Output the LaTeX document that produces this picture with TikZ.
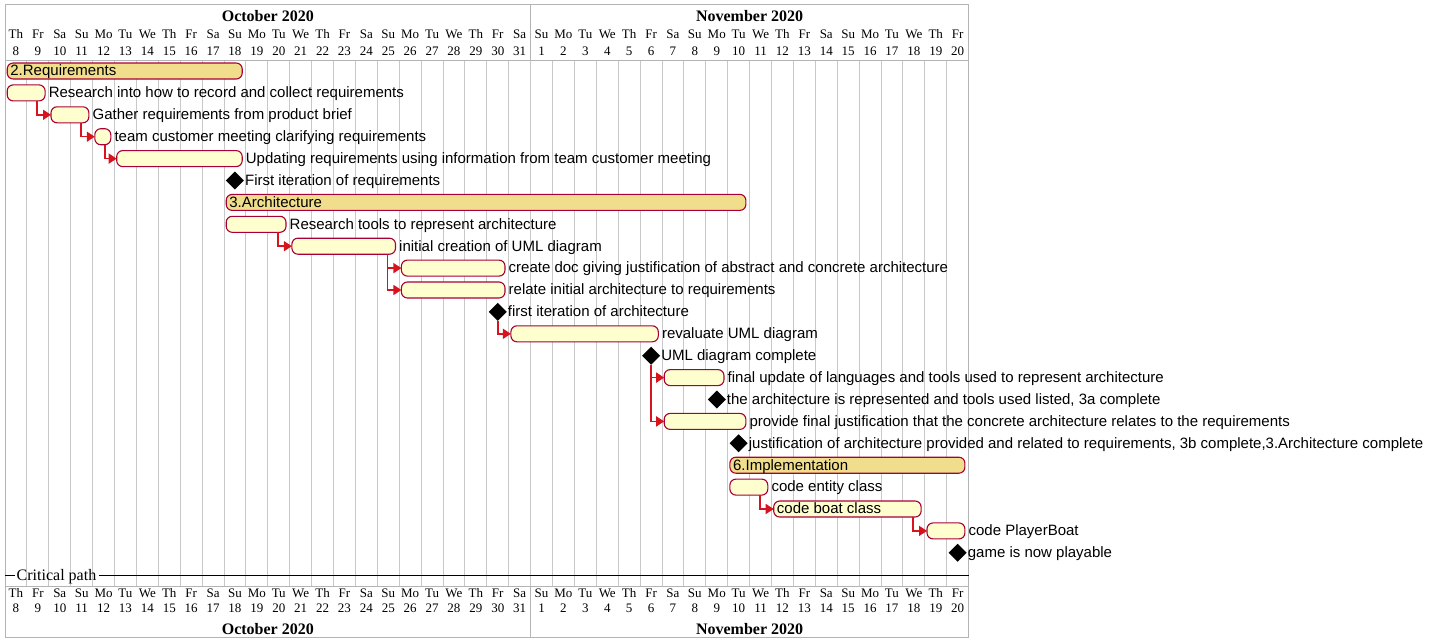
\documentclass[tikz,border=0pt]{standalone}
\usepackage{fontspec}
\setmainfont{Liberation Serif}
\newfontfamily\lblfont{Liberation Sans}
\usetikzlibrary{arrows.meta,shapes.geometric}
\definecolor{taskfill}{HTML}{FEFECE}
\definecolor{taskline}{HTML}{A80036}
\definecolor{grpfill}{RGB}{240,222,140}
\definecolor{arrowred}{RGB}{215,20,30}
\definecolor{gridgray}{RGB}{200,200,200}
\definecolor{framegray}{RGB}{180,180,180}
\newcommand{\TaskBar}[5]{%
  \pgfmathsetmacro{\tbxa}{5+21.9*(#3)+2.2}%
  \pgfmathsetmacro{\tbxb}{5+21.9*(#4)-3.7}%
  \pgfmathsetmacro{\tby}{71+21.9*(#2)}%
  \pgfmathsetmacro{\tbw}{\tbxb-\tbxa}%
  \node[#5, minimum width=\tbw pt, anchor=west] (#1) at (\tbxa,\tby) {};%
}
\newcommand{\MileStone}[3]{%
  \pgfmathsetmacro{\tbxa}{5+21.9*(#3)+10.95}%
  \pgfmathsetmacro{\tby}{71+21.9*(#2)}%
  \node[mstone] (#1) at (\tbxa,\tby) {};%
}
\tikzset{
  taskbox/.style={draw=taskline, fill=taskfill, rounded corners=6pt, line width=1.1pt, minimum height=16pt, inner sep=0pt, outer sep=0pt},
  grpbox/.style={draw=taskline, fill=grpfill, rounded corners=6pt, line width=1.1pt, minimum height=16pt, inner sep=0pt, outer sep=0pt},
  mstone/.style={diamond, fill=black, draw=none, minimum width=18pt, minimum height=18pt, inner sep=0pt, outer sep=0pt},
  lbl/.style={anchor=west, font=\lblfont\fontsize{15}{17}\selectfont, inner sep=0pt, text height=11pt, text depth=1.4pt},
  dep/.style={draw=arrowred, line width=1.5pt, -{Triangle[length=8pt,width=10pt]}},
  gridline/.style={draw=gridgray, line width=0.9pt},
  frameline/.style={draw=framegray, line width=1pt},
  dayname/.style={anchor=base, font=\fontsize{13}{15}\selectfont, inner sep=0pt},
  monthname/.style={anchor=base, font=\bfseries\fontsize{16}{18}\selectfont, inner sep=0pt},
}
\begin{document}
\begin{tikzpicture}[x=1pt, y=-1pt]
\useasboundingbox (0,0) rectangle (1437,643);
\fill[white] (0,0) rectangle (1437,643);
% grid
\foreach \k in {1,...,43} {\draw[gridline] ({5+21.9*\k},60) -- ({5+21.9*\k},586);}
\draw[frameline] (5,4.5) rectangle (968.6,637.7);
\draw[frameline] (5,60) -- (968.6,60);
\draw[frameline] (5,586) -- (968.6,586);
\draw[frameline] (530.6,4.5) -- (530.6,60);
\draw[frameline] (530.6,586) -- (530.6,637.7);
% headers
\foreach \i/\d/\n in {0/Th/8,1/Fr/9,2/Sa/10,3/Su/11,4/Mo/12,5/Tu/13,6/We/14,7/Th/15,8/Fr/16,9/Sa/17,10/Su/18,11/Mo/19,12/Tu/20,13/We/21,14/Th/22,15/Fr/23,16/Sa/24,17/Su/25,18/Mo/26,19/Tu/27,20/We/28,21/Th/29,22/Fr/30,23/Sa/31,24/Su/1,25/Mo/2,26/Tu/3,27/We/4,28/Th/5,29/Fr/6,30/Sa/7,31/Su/8,32/Mo/9,33/Tu/10,34/We/11,35/Th/12,36/Fr/13,37/Sa/14,38/Su/15,39/Mo/16,40/Tu/17,41/We/18,42/Th/19,43/Fr/20} {
  \node[dayname] (dnt\i) at ({5+21.9*(\i+0.5)},38.2) {\d};
  \node[dayname] (dmt\i) at ({5+21.9*(\i+0.5)},55) {\n};
  \node[dayname] (dnb\i) at ({5+21.9*(\i+0.5)},597.5) {\d};
  \node[dayname] (dmb\i) at ({5+21.9*(\i+0.5)},612.8) {\n};
}
\node[monthname] (octT) at (267.8,21.7) {October 2020};
\node[monthname] (novT) at (749.6,21.7) {November 2020};
\node[monthname] (octB) at (267.8,634) {October 2020};
\node[monthname] (novB) at (749.6,634) {November 2020};
% tasks
\TaskBar{g0}{0}{0}{11}{grpbox}
\node[lbl] (g0l) at ([xshift=3pt]g0.west) {2.Requirements};
\TaskBar{t1}{1}{0}{2}{taskbox}
\node[lbl] (t1l) at ([xshift=3.5pt]t1.east) {Research into how to record and collect requirements};
\TaskBar{t2}{2}{2}{4}{taskbox}
\node[lbl] (t2l) at ([xshift=3.5pt]t2.east) {Gather requirements from product brief};
\TaskBar{t3}{3}{4}{5}{taskbox}
\node[lbl] (t3l) at ([xshift=3.5pt]t3.east) {team customer meeting clarifying requirements};
\TaskBar{t4}{4}{5}{11}{taskbox}
\node[lbl] (t4l) at ([xshift=3.5pt]t4.east) {Updating requirements using information from team customer meeting};
\MileStone{m5}{5}{10}
\node[lbl] (m5l) at ([xshift=1pt]m5.east) {First iteration of requirements};
\TaskBar{g6}{6}{10}{34}{grpbox}
\node[lbl] (g6l) at ([xshift=3pt]g6.west) {3.Architecture};
\TaskBar{t7}{7}{10}{13}{taskbox}
\node[lbl] (t7l) at ([xshift=3.5pt]t7.east) {Research tools to represent architecture};
\TaskBar{t8}{8}{13}{18}{taskbox}
\node[lbl] (t8l) at ([xshift=3.5pt]t8.east) {initial creation of UML diagram};
\TaskBar{t9}{9}{18}{23}{taskbox}
\node[lbl] (t9l) at ([xshift=3.5pt]t9.east) {create doc giving justification of abstract and concrete architecture};
\TaskBar{t10}{10}{18}{23}{taskbox}
\node[lbl] (t10l) at ([xshift=3.5pt]t10.east) {relate initial architecture to requirements};
\MileStone{m11}{11}{22}
\node[lbl] (m11l) at ([xshift=1pt]m11.east) {first iteration of architecture};
\TaskBar{t12}{12}{23}{30}{taskbox}
\node[lbl] (t12l) at ([xshift=3.5pt]t12.east) {revaluate UML diagram};
\MileStone{m13}{13}{29}
\node[lbl] (m13l) at ([xshift=1pt]m13.east) {UML diagram complete};
\TaskBar{t14}{14}{30}{33}{taskbox}
\node[lbl] (t14l) at ([xshift=3.5pt]t14.east) {final update of languages and tools used to represent architecture};
\MileStone{m15}{15}{32}
\node[lbl] (m15l) at ([xshift=1pt]m15.east) {the architecture is represented and tools used listed, 3a complete};
\TaskBar{t16}{16}{30}{34}{taskbox}
\node[lbl] (t16l) at ([xshift=3.5pt]t16.east) {provide final justification that the concrete architecture relates to the requirements};
\MileStone{m17}{17}{33}
\node[lbl] (m17l) at ([xshift=1pt]m17.east) {justification of architecture provided and related to requirements, 3b complete,3.Architecture complete};
\TaskBar{g18}{18}{33}{44}{grpbox}
\node[lbl] (g18l) at ([xshift=3pt]g18.west) {6.Implementation};
\TaskBar{t19}{19}{33}{35}{taskbox}
\node[lbl] (t19l) at ([xshift=3.5pt]t19.east) {code entity class};
\TaskBar{t20}{20}{35}{42}{taskbox}
\node[lbl] (t20l) at ([xshift=3pt]t20.west) {code boat class};
\TaskBar{t21}{21}{42}{44}{taskbox}
\node[lbl] (t21l) at ([xshift=3.5pt]t21.east) {code PlayerBoat};
\MileStone{m22}{22}{43}
\node[lbl] (m22l) at ([xshift=1pt]m22.east) {game is now playable};
% dependencies
\draw[dep] ([xshift=-8pt]t1.south east) |- (t2.west);
\draw[dep] ([xshift=-8pt]t2.south east) |- (t3.west);
\draw[dep] ([xshift=-6pt]t3.south east) |- (t4.west);
\draw[dep] ([xshift=-8pt]t7.south east) |- (t8.west);
\draw[dep] ([xshift=-8pt]t8.south east) |- (t9.west);
\draw[dep] ([xshift=-8pt]t8.south east) |- (t10.west);
\draw[dep] (m11.south) |- (t12.west);
\draw[dep] (m13.south) |- (t14.west);
\draw[dep] (m13.south) |- (t16.west);
\draw[dep] ([xshift=-8pt]t19.south east) |- (t20.west);
\draw[dep] ([xshift=-8pt]t20.south east) |- (t21.west);
% critical path
\coordinate (cpL) at (5,575.5);
\coordinate (cpR) at (968.6,575.5);
\node[anchor=base west, font=\fontsize{16}{18}\selectfont, inner sep=0pt] (cp) at (16.5,580.5) {Critical path};
\draw[line width=1.4pt] (cpL) -- ([xshift=-2pt]cp.west |- cpL);
\draw[line width=1.4pt] ([xshift=3pt]cp.east |- cpR) -- (cpR);
\end{tikzpicture}
\end{document}
